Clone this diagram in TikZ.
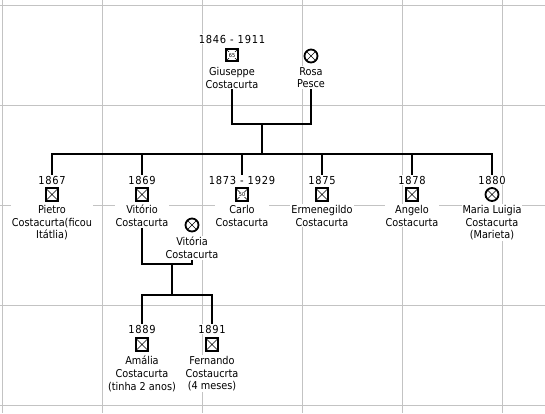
\documentclass[tikz,border=0pt]{standalone}
\usepackage{fontspec}
\setmainfont{DejaVu Sans Condensed}
\usepackage{tikz}
\usetikzlibrary{calc}

\begin{document}
\begin{tikzpicture}[x=1pt,y=1pt,yscale=-1,
  gridline/.style={draw={rgb,255:red,195;green,195;blue,195},line width=0.9pt},
  link/.style={line width=2.2pt},
  man/.style={draw,line width=1.8pt,minimum size=12.5pt,inner sep=0pt,
    path picture={\draw[line width=0.6pt] (path picture bounding box.north west) -- (path picture bounding box.south east)
      (path picture bounding box.south west) -- (path picture bounding box.north east);}},
  woman/.style={man,circle,minimum size=13pt},
  age/.style={fill=white,inner sep=0.8pt,font=\fontsize{5.5}{5.5}\selectfont},
  yr/.style={fill=white,inner sep=1pt,font=\fontsize{11}{13}\selectfont\addfontfeatures{LetterSpace=7}},
  who/.style={fill=white,inner sep=1pt,align=center,anchor=north,font=\fontsize{10.8}{12.6}\selectfont}]
\useasboundingbox (0,0) rectangle (545,413);

%Grid
\foreach \gx in {2.5,102.5,202.5,302.5,402.5,502.5}
  \draw[gridline] (\gx,0) -- (\gx,413);
\foreach \gy in {5,105,205.5,305.5,405.5}
  \draw[gridline] (0,\gy) -- (545,\gy);

% Parents
\node[yr] (giuseppeY) at (232,39) {1846 - 1911};
\node[man] (giuseppe) at (232,55) {};
\node[age] (giuseppeA) at (giuseppe) {65};
\node[who] (giuseppeN) at (232,66) {Giuseppe\\Costacurta};
\node[woman] (rosa) at (311,56) {};
\node[who] (rosaN) at (311,66) {Rosa\\Pesce};

% Children
\node[yr] (pietroY) at (52,180) {1867};
\node[man] (pietro) at (52,194.5) {};
\node[who] (pietroN) at (52,204) {Pietro\\Costacurta(ficou\\Itátlia)};

\node[yr] (vitorioY) at (142,180) {1869};
\node[man] (vitorio) at (142,194.5) {};
\node[who] (vitorioN) at (142,204) {Vitório\\Costacurta};

\node[yr] (carloY) at (242,180) {1873 - 1929};
\node[man] (carlo) at (242,194.5) {};
\node[age] (carloA) at (carlo) {50};
\node[who] (carloN) at (242,204) {Carlo\\Costacurta};

\node[yr] (ermenegildoY) at (322,180) {1875};
\node[man] (ermenegildo) at (322,194.5) {};
\node[who] (ermenegildoN) at (322,204) {Ermenegildo\\Costacurta};

\node[yr] (angeloY) at (412,180) {1878};
\node[man] (angelo) at (412,194.5) {};
\node[who] (angeloN) at (412,204) {Angelo\\Costacurta};

\node[yr] (mariaY) at (492,180) {1880};
\node[woman] (maria) at (492,194.5) {};
\node[who] (mariaN) at (492,204) {Maria Luigia\\Costacurta\\(Marieta)};

% Vitorio's wife
\node[woman] (vitoria) at (192,225) {};
\node[who] (vitoriaN) at (192,236) {Vitória\\Costacurta};

% Grandchildren
\node[yr] (amaliaY) at (142,329) {1889};
\node[man] (amalia) at (142,344.5) {};
\node[who] (amaliaN) at (142,355) {Amália\\Costacurta\\(tinha 2 anos)};

\node[yr] (fernandoY) at (212,329) {1891};
\node[man] (fernando) at (212,344.5) {};
\node[who] (fernandoN) at (212,355) {Fernando\\Costaucrta\\(4 meses)};

%Lines
\coordinate (cpl1) at (262,124);
\coordinate (sib1) at (262,154);
\draw[link] (giuseppeN.south) |- (cpl1) -| (rosaN.south);
\draw[link] (cpl1) -- (sib1);
\draw[link] (pietroY.north) |- (sib1) -| (mariaY.north);
\draw[link] (sib1 -| vitorioY.north) -- (vitorioY.north);
\draw[link] (sib1 -| carloY.north) -- (carloY.north);
\draw[link] (sib1 -| ermenegildoY.north) -- (ermenegildoY.north);
\draw[link] (sib1 -| angeloY.north) -- (angeloY.north);

\coordinate (cpl2) at (172,264);
\coordinate (sib2) at (172,295);
\draw[link] (vitorioN.south) |- (cpl2) -| (vitoriaN.south);
\draw[link] (cpl2) -- (sib2);
\draw[link] (amaliaY.north) |- (sib2) -| (fernandoY.north);

\end{tikzpicture}
\end{document}
